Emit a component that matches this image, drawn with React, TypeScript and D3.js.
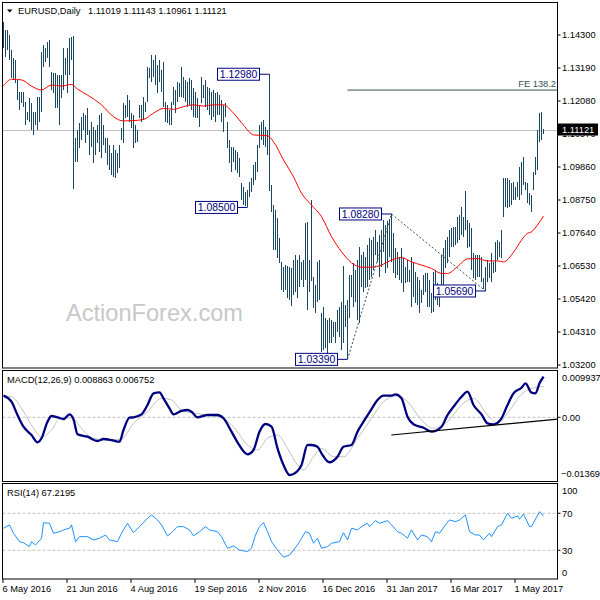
import React from 'react';
import * as d3 from 'd3';

// ---------- DATA ----------
const highs = [
  1.1474, 1.1447, 1.1447, 1.1430, 1.1380, 1.1353, 1.1345, 1.1279, 1.1238, 1.1238,
  1.1238, 1.1205, 1.1171, 1.1218, 1.1201, 1.1171, 1.1171, 1.1221, 1.1221, 1.1373,
  1.1396, 1.1386, 1.1406, 1.1413, 1.1306, 1.1302, 1.1302, 1.1295, 1.1295, 1.1295,
  1.1386, 1.1353, 1.1386, 1.1420, 1.1423, 1.1428, 1.1083, 1.1110, 1.1134, 1.1154,
  1.1168, 1.1161, 1.1184, 1.1110, 1.1137, 1.1120, 1.1110, 1.1127, 1.1161, 1.1168,
  1.1127, 1.1083, 1.1083, 1.1060, 1.1033, 1.1060, 1.1043, 1.1033, 1.1060, 1.1117,
  1.1201, 1.1195, 1.1228, 1.1211, 1.1168, 1.1161, 1.1127, 1.1110, 1.1195, 1.1195,
  1.1221, 1.1205, 1.1322, 1.1319, 1.1363, 1.1346, 1.1363, 1.1329, 1.1346, 1.1312,
  1.1339, 1.1205, 1.1195, 1.1178, 1.1205, 1.1255, 1.1245, 1.1272, 1.1269, 1.1322,
  1.1289, 1.1279, 1.1272, 1.1285, 1.1279, 1.1252, 1.1238, 1.1218, 1.1195, 1.1289,
  1.1262, 1.1279, 1.1255, 1.1252, 1.1238, 1.1245, 1.1235, 1.1238, 1.1228, 1.1211,
  1.1195, 1.1201, 1.1137, 1.1077, 1.1053, 1.1053, 1.1043, 1.1036, 1.1016, 1.0932,
  1.0919, 1.0902, 1.0909, 1.0936, 1.0949, 1.0993, 1.1003, 1.1060, 1.1127, 1.1137,
  1.1144, 1.1120, 1.1110, 1.1298, 1.0925, 1.0858, 1.0841, 1.0814, 1.0747, 1.0666,
  1.0650, 1.0656, 1.0653, 1.0650, 1.0646, 1.0673, 1.0690, 1.0673, 1.0690, 1.0666,
  1.0673, 1.0798, 1.0801, 1.0673, 1.0874, 1.0616, 1.0589, 1.0666, 1.0673, 1.0495,
  1.0515, 1.0478, 1.0471, 1.0478, 1.0471, 1.0465, 1.0465, 1.0505, 1.0515, 1.0532,
  1.0653, 1.0522, 1.0539, 1.0623, 1.0623, 1.0663, 1.0640, 1.0673, 1.0717, 1.0690,
  1.0700, 1.0683, 1.0724, 1.0747, 1.0740, 1.0751, 1.0774, 1.0734, 1.0757, 1.0774,
  1.0808, 1.0791, 1.0805, 1.0812, 1.0828, 1.0764, 1.0714, 1.0700, 1.0683, 1.0714,
  1.0680, 1.0650, 1.0673, 1.0640, 1.0683, 1.0666, 1.0633, 1.0616, 1.0606, 1.0572,
  1.0623, 1.0629, 1.0629, 1.0606, 1.0562, 1.0633, 1.0640, 1.0596, 1.0582, 1.0690,
  1.0714, 1.0740, 1.0751, 1.0774, 1.0781, 1.0784, 1.0784, 1.0818, 1.0825, 1.0851,
  1.0818, 1.0906, 1.0808, 1.0798, 1.0781, 1.0697, 1.0690, 1.0690, 1.0690, 1.0683,
  1.0613, 1.0650, 1.0673, 1.0663, 1.0697, 1.0666, 1.0734, 1.0740, 1.0734, 1.0774,
  1.0949, 1.0949, 1.0949, 1.0942, 1.0932, 1.0936, 1.0919, 1.0936, 1.0986, 1.1003,
  1.1020, 1.0936, 1.0932, 1.0898, 1.0892, 1.0969, 1.1020, 1.1110, 1.1168, 1.1171, 1.11143,
];

const lows = [
  1.1386, 1.1356, 1.1380, 1.1346, 1.1285, 1.1279, 1.1268, 1.1211, 1.1178, 1.1201,
  1.1188, 1.1127, 1.1144, 1.1137, 1.1110, 1.1094, 1.1127, 1.1110, 1.1137, 1.1171,
  1.1322, 1.1339, 1.1353, 1.1322, 1.1245, 1.1235, 1.1184, 1.1184, 1.1127, 1.1218,
  1.1245, 1.1295, 1.1235, 1.1295, 1.1346, 1.0912, 1.1003, 1.1003, 1.1050, 1.1077,
  1.1110, 1.1067, 1.1094, 1.1026, 1.1053, 1.0999, 1.1026, 1.1067, 1.1036, 1.1016,
  1.1060, 1.1033, 1.0993, 1.0976, 1.0959, 1.0952, 1.0949, 1.0966, 1.0983, 1.1077,
  1.1067, 1.1151, 1.1154, 1.1137, 1.1117, 1.1050, 1.1067, 1.1070, 1.1151, 1.1137,
  1.1144, 1.1171, 1.1205, 1.1285, 1.1272, 1.1289, 1.1262, 1.1235, 1.1272, 1.1238,
  1.1188, 1.1137, 1.1134, 1.1127, 1.1127, 1.1195, 1.1168, 1.1205, 1.1221, 1.1221,
  1.1218, 1.1205, 1.1188, 1.1195, 1.1178, 1.1154, 1.1151, 1.1151, 1.1120, 1.1201,
  1.1218, 1.1188, 1.1178, 1.1161, 1.1144, 1.1154, 1.1137, 1.1161, 1.1161, 1.1137,
  1.1104, 1.1154, 1.1050, 1.0999, 1.0969, 1.1003, 1.0976, 1.0966, 1.0952, 1.0875,
  1.0858, 1.0855, 1.0850, 1.0885, 1.0902, 1.0925, 1.0942, 1.0969, 1.1050, 1.1077,
  1.1060, 1.1053, 1.1026, 1.0906, 1.0835, 1.0707, 1.0707, 1.0680, 1.0663, 1.0572,
  1.0566, 1.0572, 1.0545, 1.0539, 1.0518, 1.0555, 1.0566, 1.0545, 1.0582, 1.0606,
  1.0582, 1.0606, 1.0505, 1.0566, 1.0602, 1.0512, 1.0495, 1.0532, 1.0539, 1.0364,
  1.0370, 1.0377, 1.0352, 1.0394, 1.0394, 1.0414, 1.0394, 1.0431, 1.0414, 1.0370,
  1.0394, 1.0448, 1.0339, 1.0478, 1.0549, 1.0515, 1.0532, 1.0471, 1.0461, 1.0582,
  1.0566, 1.0579, 1.0582, 1.0606, 1.0616, 1.0640, 1.0690, 1.0666, 1.0616, 1.0650,
  1.0700, 1.0629, 1.0646, 1.0683, 1.0666, 1.0629, 1.0613, 1.0623, 1.0606, 1.0596,
  1.0566, 1.0596, 1.0599, 1.0599, 1.0515, 1.0549, 1.0529, 1.0522, 1.0495, 1.0529,
  1.0555, 1.0566, 1.0515, 1.0515, 1.0495, 1.0498, 1.0539, 1.0522, 1.0515, 1.0572,
  1.0582, 1.0646, 1.0663, 1.0683, 1.0717, 1.0717, 1.0724, 1.0730, 1.0740, 1.0757,
  1.0751, 1.0774, 1.0714, 1.0717, 1.0640, 1.0613, 1.0606, 1.0616, 1.0616, 1.0599,
  1.0576, 1.0569, 1.0599, 1.0613, 1.0599, 1.0629, 1.0633, 1.0673, 1.0683, 1.0680,
  1.0818, 1.0851, 1.0848, 1.0851, 1.0858, 1.0875, 1.0875, 1.0885, 1.0875, 1.0892,
  1.0925, 1.0909, 1.0865, 1.0858, 1.0835, 1.0909, 1.0959, 1.0976, 1.1070, 1.1077, 1.10961,
];

const lastOpen = 1.11019;
const lastHigh = 1.11143;
const lastLow = 1.10961;
const lastClose = 1.11121;

const maBars = [0, 4, 9, 14, 19, 24, 29, 34, 37, 42, 49, 55, 60, 65, 70, 75, 80, 85, 90, 95, 100, 105, 110, 115, 120, 125, 132, 135, 140, 145, 149, 154, 159, 164, 169, 174, 179, 184, 189, 194, 199, 204, 209, 214, 219, 222, 227, 232, 237, 242, 247, 250, 255, 259, 262, 264, 267, 270];
const maValues = [1.1259, 1.1281, 1.1279, 1.1258, 1.1245, 1.1262, 1.1258, 1.1264, 1.1248, 1.1228, 1.1195, 1.1155, 1.1141, 1.1142, 1.1146, 1.1167, 1.1183, 1.1180, 1.1189, 1.1195, 1.1191, 1.1195, 1.1195, 1.1167, 1.1127, 1.1094, 1.1091, 1.1071, 1.1010, 1.0953, 1.0898, 1.0858, 1.0819, 1.0752, 1.0701, 1.0664, 1.0649, 1.0649, 1.0656, 1.0673, 1.0681, 1.0667, 1.0656, 1.0645, 1.0628, 1.0628, 1.0651, 1.0677, 1.0678, 1.0670, 1.0670, 1.0667, 1.0699, 1.0740, 1.0763, 1.0768, 1.0791, 1.0821];

const macdBars = [0, 4, 7, 10, 14, 17, 19, 22, 24, 27, 30, 33, 35, 37, 42, 47, 50, 54, 58, 60, 63, 65, 69, 72, 75, 78, 80, 83, 85, 89, 92, 94, 97, 102, 107, 110, 114, 117, 122, 125, 128, 131, 134, 137, 140, 143, 147, 149, 152, 154, 157, 159, 163, 167, 170, 174, 177, 180, 184, 187, 190, 194, 196, 199, 202, 205, 210, 214, 219, 222, 225, 229, 232, 235, 239, 242, 245, 249, 252, 255, 259, 261, 264, 266, 268, 270];
const macdValues = [0.00472, 0.00341, 0.0005, -0.00205, -0.00386, -0.00546, -0.00458, -0.00096, 0.00028, 0, -0.00037, 0.00065, -0.00044, -0.00371, -0.00423, -0.00517, -0.00474, -0.00496, -0.00533, -0.00277, -0.00009, 0, 0.00065, 0.00269, 0.00524, 0.00546, 0.00415, 0.00196, 0.00065, 0.00138, 0.00159, 0.00122, 0, 0.0005, 0.0005, -0.00022, -0.00314, -0.00546, -0.00808, -0.00714, -0.00314, -0.00146, -0.00205, -0.00677, -0.01041, -0.0126, -0.01172, -0.01041, -0.00605, -0.00605, -0.00642, -0.00786, -0.00982, -0.0086, -0.00642, -0.00605, -0.00314, -0.00096, 0.00181, 0.00378, 0.00472, 0.00472, 0.00502, 0.00415, 0.00013, -0.00153, -0.00227, -0.00314, -0.00205, 0.0005, 0.00231, 0.0045, 0.00559, 0.00269, 0.00065, -0.00131, -0.00153, -0.00022, 0.00269, 0.00524, 0.00646, 0.00742, 0.00537, 0.00524, 0.00742, 0.008863];

const signalBars = [0, 4, 9, 14, 19, 24, 28, 34, 39, 44, 52, 59, 65, 72, 79, 84, 89, 99, 109, 115, 122, 127, 132, 137, 142, 147, 150, 155, 159, 165, 170, 177, 184, 190, 197, 202, 209, 215, 222, 229, 235, 242, 247, 252, 259, 264, 270];
const signalValues = [0.00465, 0.0045, 0.00196, -0.00168, -0.00423, -0.00277, -0.00037, -0.00009, -0.0024, -0.00445, -0.00496, -0.00474, -0.00131, 0.00122, 0.00415, 0.00378, 0.00159, 0.00065, -0.00009, -0.00205, -0.00605, -0.00714, -0.00458, -0.00386, -0.00677, -0.01041, -0.0115, -0.0086, -0.00677, -0.0086, -0.0086, -0.00458, -0.00022, 0.00341, 0.00472, 0.00341, -0.00059, -0.0024, -0.00096, 0.00269, 0.00415, 0.0005, -0.00131, 0.00087, 0.00502, 0.00633, 0.006752];

const rsiBars = [0, 3, 5, 8, 10, 13, 14, 16, 19, 20, 23, 25, 28, 30, 33, 34, 36, 38, 42, 45, 48, 51, 53, 57, 59, 62, 65, 68, 72, 74, 77, 79, 82, 84, 87, 90, 93, 95, 98, 101, 103, 107, 109, 112, 115, 118, 122, 124, 126, 128, 130, 132, 134, 137, 140, 143, 147, 148, 151, 153, 155, 157, 159, 162, 164, 168, 170, 172, 174, 177, 179, 182, 183, 186, 188, 192, 194, 197, 199, 202, 204, 207, 209, 212, 214, 216, 218, 221, 223, 226, 228, 231, 233, 236, 238, 240, 243, 244, 247, 249, 252, 254, 257, 258, 260, 263, 264, 268, 270];
const rsiValues = [53.8, 57.4, 48.4, 39.3, 38.2, 33.9, 39.3, 35.7, 43.0, 59.8, 59.2, 48.4, 50.1, 52.0, 53.8, 57.4, 39.3, 44.7, 44.7, 41.1, 43.0, 46.5, 41.1, 39.3, 48.4, 59.2, 49.0, 55.5, 64.6, 68.2, 62.8, 57.4, 45.5, 49.0, 55.5, 55.5, 52.0, 45.5, 50.1, 55.5, 52.0, 50.1, 44.7, 32.2, 34.6, 30.3, 28.5, 32.2, 46.5, 55.5, 59.8, 50.1, 39.3, 30.3, 22.4, 24.9, 35.7, 39.3, 50.1, 48.4, 37.6, 43.0, 32.2, 33.9, 37.6, 39.3, 49.0, 41.1, 53.8, 52.0, 55.5, 59.2, 55.5, 62.0, 59.2, 62.0, 57.4, 50.1, 48.4, 43.0, 52.0, 41.1, 46.5, 44.7, 39.3, 50.1, 48.4, 57.4, 62.8, 60.9, 62.8, 68.2, 50.1, 46.5, 46.5, 41.1, 48.4, 44.7, 55.5, 57.4, 70.0, 64.6, 67.1, 63.5, 69.2, 55.5, 55.5, 71.7, 67.2195];

const dateTickBars = [0, 32, 64, 96, 128, 160, 192, 224, 256];
const dateTickLabels = ['6 May 2016', '21 Jun 2016', '4 Aug 2016', '19 Sep 2016', '2 Nov 2016', '16 Dec 2016', '31 Jan 2017', '16 Mar 2017', '1 May 2017'];

const priceTicks = [1.143, 1.1319, 1.1208, 1.1097, 1.0986, 1.0875, 1.0764, 1.0653, 1.0542, 1.0431, 1.032];
const rsiTicks = [70, 30];
const rsiEdgeLabels = ['100', '0'];
const macdMax = 0.009937;
const macdMin = -0.013691;

const pivotBars = [133, 122, 194, 172, 241];
const pivotPrices = [1.1298, 1.085, 1.0828, 1.0339, 1.0569];

const feBars = [172, 194, 241];
const fePrices = [1.0339, 1.0828, 1.0569];
const feRatio = 1.382;

const macdTrendBars = [193.9, 277.4];
const macdTrendValues = [-0.00386, -0.00037];

// ---------- CHART ----------
const FONT = '"Liberation Sans", Arial, sans-serif';
const BAR_COLOR = '#1b4760';

export default function App() {
  const L = 2.5, R = 557.5;
  const pTop = 2.5, pBot = 368;
  const mTop = 370.5, mBot = 481.5;
  const rTop = 483.5, rBot = 579;

  const x = d3.scaleLinear().domain([0, 270]).range([3.5, 543.5]);
  const yP = d3.scaleLinear().domain([1.032, 1.143]).range([365, 35]);
  const yM = d3.scaleLinear().domain([macdMin, macdMax]).range([480, 371.8]);
  const yR = d3.scaleLinear().domain([0, 100]).range([578, 485.5]);

  const ma = d3.line<number>().x((d, i) => x(maBars[i])).y(d => yP(d)).curve(d3.curveMonotoneX)(maValues) || '';
  const macd = d3.line<number>().x((d, i) => x(macdBars[i])).y(d => yM(d)).curve(d3.curveMonotoneX)(macdValues) || '';
  const signal = d3.line<number>().x((d, i) => x(signalBars[i])).y(d => yM(d)).curve(d3.curveMonotoneX)(signalValues) || '';
  const rsi = d3.line<number>().x((d, i) => x(rsiBars[i])).y(d => yR(d))(rsiValues) || '';
  const fePath = d3.line<number>().x((d, i) => x(feBars[i])).y(d => yP(d))(fePrices) || '';
  const feValue = fePrices[2] + feRatio * (fePrices[1] - fePrices[0]);
  const trend = d3.line<number>().x((d, i) => x(macdTrendBars[i])).y(d => yM(d))(macdTrendValues) || '';

  const fmt5 = d3.format('.5f');
  const yClose = yP(lastClose);

  return (
    <svg width={600} height={600} style={{ position: 'fixed', left: 0, top: 0, background: '#fff' }} fontFamily={FONT}>
      <defs>
        <clipPath id="cp"><rect x={L} y={pTop} width={R - L} height={pBot - pTop} /></clipPath>
        <clipPath id="cm"><rect x={L} y={mTop} width={R - L} height={mBot - mTop} /></clipPath>
        <clipPath id="cr"><rect x={L} y={rTop} width={R - L} height={rBot - rTop} /></clipPath>
      </defs>
      <rect x={0} y={0} width={600} height={600} fill="#fff" />

      {/* ===== price panel ===== */}
      <text x={66} y={321} fontSize={23.6} fill="#c8c8c8">ActionForex.com</text>
      <g clipPath="url(#cp)">
        <line x1={L} x2={R} y1={Math.round(yClose) + 0.5} y2={Math.round(yClose) + 0.5} stroke="#c0c0c0" />
        {highs.map((h, i) => (
          <line key={i} x1={x(i)} x2={x(i)} y1={yP(h)} y2={yP(lows[i])} stroke={BAR_COLOR} strokeWidth={1} shapeRendering="crispEdges" />
        ))}
        <path d={ma} fill="none" stroke="#ff0000" strokeWidth={1} />
        <path d={fePath} fill="none" stroke="#2f4f4f" strokeWidth={1} strokeDasharray="2,2" />
        <line x1={x(feBars[0])} x2={R} y1={yP(feValue)} y2={yP(feValue)} stroke="#2f4f4f" strokeWidth={1} />
        <text x={556} y={yP(feValue) - 3} fontSize={9.3} fill="#3a4f58" textAnchor="end">FE 138.2</text>
        {pivotBars.map((b, i) => {
          const py = yP(pivotPrices[i]);
          const bx = x(b);
          const right = bx - 10;
          return (
            <g key={'pv' + i}>
              <line x1={right} x2={bx} y1={py} y2={py} stroke="#000080" strokeWidth={1} />
              <rect x={right - 42} y={py - 6} width={42} height={12} fill="#fff" stroke="#000080" strokeWidth={1} />
              <text x={right - 21} y={py + 3.8} fontSize={10.4} fill="#000080" textAnchor="middle">{fmt5(pivotPrices[i])}</text>
            </g>
          );
        })}
      </g>
      <rect x={L} y={pTop} width={R - L} height={pBot - pTop} fill="none" stroke="#000" strokeWidth={1} />
      <polygon points="7,9.5 12.5,9.5 9.75,12.5" fill="#000" />
      <text x={18} y={14} fontSize={9.3} fill="#000">EURUSD,Daily</text>
      <text x={88} y={14} fontSize={9.3} fill="#000">{[lastOpen, lastHigh, lastLow, lastClose].map(fmt5).join(' ')}</text>

      {priceTicks.map((t, i) => (
        <g key={'pt' + i}>
          <line x1={R} x2={R + 3} y1={yP(t)} y2={yP(t)} stroke="#000" />
          <text x={562} y={yP(t) + 3.3} fontSize={9.3} fill="#000">{fmt5(t)}</text>
        </g>
      ))}
      <rect x={558} y={yClose - 6} width={40} height={12} fill="#000" />
      <text x={562} y={yClose + 3.3} fontSize={9.3} fill="#fff">{fmt5(lastClose)}</text>

      {/* ===== MACD panel ===== */}
      <g clipPath="url(#cm)">
        <line x1={L} x2={R} y1={yM(0)} y2={yM(0)} stroke="#c0c0c0" strokeDasharray="3,2" />
        <path d={signal} fill="none" stroke="#c0c0c0" strokeWidth={1} />
        <path d={macd} fill="none" stroke="#000080" strokeWidth={2.3} />
        <path d={trend} fill="none" stroke="#000" strokeWidth={1.2} />
      </g>
      <rect x={L} y={mTop} width={R - L} height={mBot - mTop} fill="none" stroke="#000" strokeWidth={1} />
      <text x={7} y={383} fontSize={9.3} fill="#000">{`MACD(12,26,9) ${d3.format('.6f')(macdValues[macdValues.length - 1])} ${d3.format('.6f')(signalValues[signalValues.length - 1])}`}</text>
      <line x1={R} x2={R + 3} y1={yM(0)} y2={yM(0)} stroke="#000" />
      <text x={562} y={yM(macdMax) + 9.3} fontSize={9.3} fill="#000">{d3.format('.6f')(macdMax)}</text>
      <text x={562} y={yM(0) + 3.3} fontSize={9.3} fill="#000">0.00</text>
      <text x={561} y={yM(macdMin) - 2.7} fontSize={9.3} fill="#000">{d3.format('.6f')(macdMin)}</text>

      {/* ===== RSI panel ===== */}
      <g clipPath="url(#cr)">
        {rsiTicks.map((t, i) => (
          <line key={'rl' + i} x1={L} x2={R} y1={yR(t)} y2={yR(t)} stroke="#c0c0c0" strokeDasharray="3,2" />
        ))}
        <path d={rsi} fill="none" stroke="#1e90ff" strokeWidth={1} />
      </g>
      <rect x={L} y={rTop} width={R - L} height={rBot - rTop} fill="none" stroke="#000" strokeWidth={1} />
      <text x={7} y={496} fontSize={9.3} fill="#000">{`RSI(14) ${rsiValues[rsiValues.length - 1]}`}</text>
      <text x={562} y={yR(100) + 8} fontSize={9.3} fill="#000">{rsiEdgeLabels[0]}</text>
      {rsiTicks.map((t, i) => (
        <g key={'rt' + i}>
          <line x1={R} x2={R + 3} y1={yR(t)} y2={yR(t)} stroke="#000" />
          <text x={562} y={yR(t) + 3.3} fontSize={9.3} fill="#000">{t}</text>
        </g>
      ))}
      <text x={562} y={yR(0) - 2.5} fontSize={9.3} fill="#000">{rsiEdgeLabels[1]}</text>

      {/* ===== date axis ===== */}
      {dateTickBars.map((b, i) => (
        <g key={'dt' + i}>
          <line x1={x(b) - 0.5} x2={x(b) - 0.5} y1={rBot} y2={rBot + 4} stroke="#000" />
          <text x={x(b) - 1} y={591.5} fontSize={9.3} fill="#000">{dateTickLabels[i]}</text>
        </g>
      ))}
    </svg>
  );
}
